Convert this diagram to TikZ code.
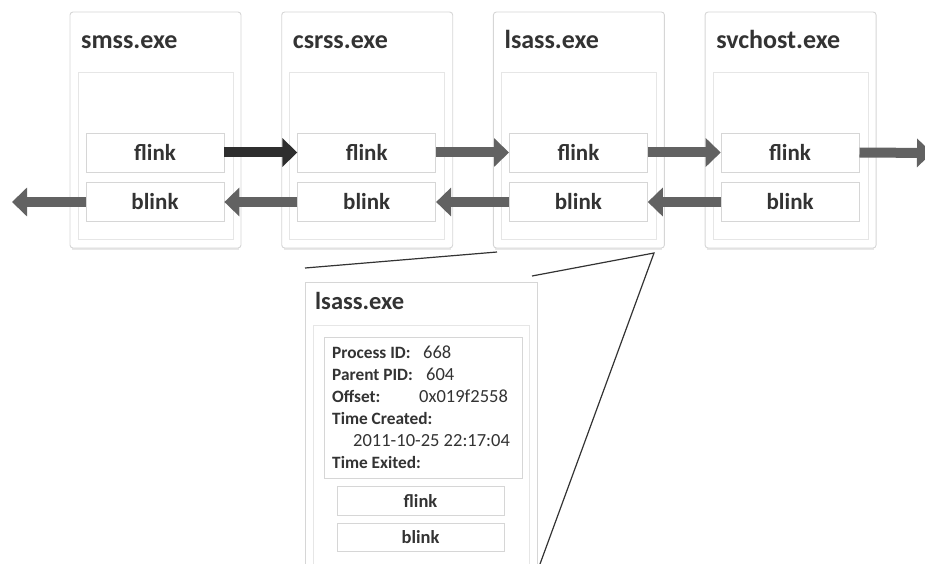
\documentclass[tikz,border=0pt]{standalone}
\usepackage{fontspec}
\setmainfont{Carlito}
\usetikzlibrary{arrows.meta}
\definecolor{ink}{HTML}{333333}
\definecolor{frame}{HTML}{D6D6D6}
\definecolor{faint}{HTML}{E6E6E6}
\definecolor{arrowgray}{HTML}{626262}
\definecolor{arrowdark}{HTML}{2E2E2E}
\tikzset{
  procbox/.style={draw=frame, line width=0.9pt, rounded corners=3pt, fill=white,
    minimum width=171pt, minimum height=236pt, inner sep=0pt},
  innerframe/.style={draw=faint, line width=0.8pt, minimum width=155pt, minimum height=167pt, inner sep=0pt},
  linkbox/.style={draw=frame, line width=0.8pt, fill=white, minimum width=138pt, minimum height=39pt,
    inner sep=0pt, text=ink, font=\fontsize{23pt}{26pt}\selectfont\bfseries},
  smalllink/.style={draw=frame, line width=0.8pt, fill=white, minimum width=167pt, minimum height=28.5pt,
    inner sep=0pt, text=ink, font=\fontsize{18.5pt}{20pt}\selectfont\bfseries},
  title/.style={anchor=base west, inner sep=0pt, text=ink, font=\fontsize{26pt}{30pt}\selectfont\bfseries},
  infolabel/.style={anchor=base west, inner sep=0pt, text=ink, font=\fontsize{17.3pt}{20pt}\selectfont\bfseries},
  infovalue/.style={anchor=base west, inner sep=0pt, text=ink, font=\fontsize{18.5pt}{20pt}\selectfont},
  fwd/.style={draw=arrowgray, line width=10pt, -{Triangle[width=28pt,length=15pt]}},
  fwddark/.style={fwd, draw=arrowdark},
  zoomline/.style={draw=ink, line width=1.2pt},
}
\begin{document}
\begin{tikzpicture}[x=1pt, y=-1pt]
\useasboundingbox (0,0) rectangle (925,564);

% process blocks of the linked list
\foreach \i/\name in {0/smss.exe, 1/csrss.exe, 2/lsass.exe, 3/svchost.exe} {
  \pgfmathsetmacro{\L}{70+211.7*\i}
  \draw[gray!18, line width=2pt, rounded corners=3pt] (\L+2,248.5) -- (\L+169,248.5);
  \node[procbox] (p\i) at (\L+85.5,130) {};
  \node[innerframe] (q\i) at (\L+85.5,155.5) {};
  \node[title] (t\i) at (\L+11,49) {\name};
  \node[linkbox] (f\i) at (\L+85,152.5) {flink};
  \node[linkbox] (b\i) at (\L+85,202) {blink};
}

% forward pointers
\coordinate (fend) at (932,153);
\draw[fwddark] (f0.east) -- (f1.west);
\draw[fwd] (f1.east) -- (f2.west);
\draw[fwd] (f2.east) -- (f3.west);
\draw[fwd] (f3.east) -- (fend);

% backward pointers
\coordinate (bend) at (12,202);
\draw[fwd] (b0.west) -- (bend);
\draw[fwd] (b1.west) -- (b0.east);
\draw[fwd] (b2.west) -- (b1.east);
\draw[fwd] (b3.west) -- (b2.east);

% enlarged view of one EPROCESS block
\node[draw=frame, line width=0.9pt, fill=white, minimum width=232pt, minimum height=300pt,
  inner sep=0pt] (det) at (421,432) {};
\node[draw=faint, line width=0.8pt, minimum width=216pt, minimum height=260pt, inner sep=0pt]
  (detin) at (421,455) {};
\node[title, font=\fontsize{24.5pt}{28pt}\selectfont\bfseries] (dt) at (315,309) {lsass.exe};
\node[draw=frame, line width=0.8pt, fill=white, minimum width=198pt, minimum height=141pt,
  inner sep=0pt] (info) at (423,407.5) {};

\node[infolabel] (l1) at (332,358) {Process ID:};
\node[infovalue] (v1) at (423,358) {668};
\node[infolabel] (l2) at (332,380) {Parent PID:};
\node[infovalue] (v2) at (426,380) {604};
\node[infolabel] (l3) at (332,402) {Offset:};
\node[infovalue] (v3) at (419,402) {0x019f2558};
\node[infolabel] (l4) at (332,424) {Time Created:};
\node[infovalue] (v4) at (353,446) {2011-10-25 22:17:04};
\node[infolabel] (l5) at (332,468) {Time Exited:};

\node[smalllink] (df) at (420.5,501) {flink};
\node[smalllink] (db) at (420.5,537.5) {blink};

% zoom lines from the list entry to the enlarged view
\coordinate (za) at (305,268);
\coordinate (zb) at (497,252);
\coordinate (zc) at (532,276);
\coordinate (zd) at (654,253);
\coordinate (ze) at (540,564);
\draw[zoomline] (za) -- (zb);
\draw[zoomline] (zc) -- (zd) -- (ze);
\end{tikzpicture}
\end{document}
